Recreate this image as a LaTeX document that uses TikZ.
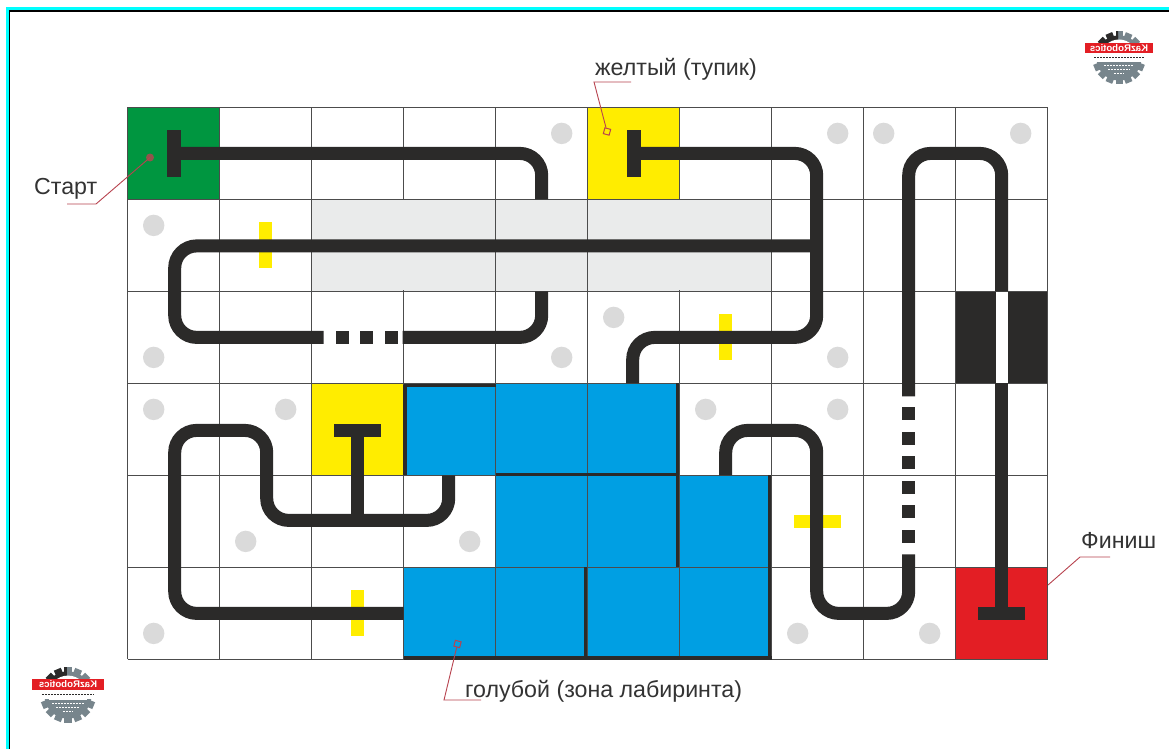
\documentclass[tikz,border=0pt]{standalone}
\usepackage{fontspec}
\usepackage{graphicx}
\setmainfont{Liberation Sans}
\definecolor{trk}{HTML}{2B2A29}
\definecolor{blu}{HTML}{009FE3}
\definecolor{ylw}{HTML}{FFED00}
\definecolor{grn}{HTML}{009640}
\definecolor{rdd}{HTML}{E31E24}
\definecolor{zonegrey}{HTML}{EAEBEB}
\definecolor{dotgrey}{HTML}{DADADA}
\definecolor{leader}{HTML}{B8434F}
\definecolor{txt}{HTML}{333333}
\definecolor{geargrey}{HTML}{77858C}
\definecolor{framecyan}{HTML}{00FFFF}
\tikzset{
  track/.style={draw=trk,line width=13pt,rounded corners=22pt},
  wall/.style={draw=trk,line width=3.5pt},
  tick/.style={fill=ylw,draw=none},
  dot/.style={fill=dotgrey,draw=none},
  grd/.style={draw=black!70,line width=0.9pt},
  lead/.style={draw=leader,line width=0.9pt},
  marker/.style={draw=leader,line width=1pt,fill=none},
  lbl/.style={text=txt,font=\fontsize{23.2}{27}\selectfont,inner sep=0pt,anchor=base west},
  square/.style={fill=trk,draw=none}
}
\newcommand{\kazlogo}[3]{%
  \begin{scope}[shift={(#1,#2)},scale=#3]
    \foreach \a in {0,22.5,...,337.5}{
      \fill[geargrey,rotate=\a] (-3.5,-26.5) rectangle (3.5,-20);
    }
    \fill[geargrey] (0,0) circle (22.5);
    \begin{scope}
      \clip (-30,-27) rectangle (-1,-8);
      \foreach \a in {0,22.5,...,337.5}{
        \fill[trk,rotate=\a] (-3.5,-26.5) rectangle (3.5,-20);
      }
      \fill[trk] (0,0) circle (22.5);
    \end{scope}
    \begin{scope}
      \clip (-30,-30) rectangle (30,4);
      \fill[white] (0,0) circle (18.5);
    \end{scope}
    \fill[white] (-28,-6) rectangle (28,4);
    \fill[rdd] (-34,-15) rectangle (34,-5);
    \node[inner sep=0pt,text=white,font=\bfseries\fontsize{9.6}{11}\selectfont] at (0,-10) {\reflectbox{KazRobotics}};
    \draw[trk,line width=1pt,dash pattern=on 2pt off 1pt] (-25,-0.5) -- (25,-0.5);
    \draw[white,line width=1pt,dash pattern=on 2pt off 1pt] (-15,8) -- (15,8);
    \draw[white,line width=1pt,dash pattern=on 2pt off 1pt] (-11,12) -- (11,12);
    \draw[white,line width=1pt,dash pattern=on 2pt off 1pt] (-5,16) -- (5,16);
  \end{scope}%
}
\begin{document}
\begin{tikzpicture}[x=1pt,y=-1pt]
\useasboundingbox (0,0) rectangle (1169,749);
\fill[white] (0,0) rectangle (1169,749);
% frame
\fill[framecyan] (5.5,7.5) rectangle (1169,10.5);
\fill[framecyan] (5.5,7.5) rectangle (8.5,749);
\fill[black] (8.5,10.5) rectangle (1169,12.5);
\fill[black] (8.5,10.5) rectangle (10.3,749);
\begin{scope}[xshift=-0.3pt,yshift=-0.4pt]
% coloured cells
\fill[grn] (128,107) rectangle (220,199);
\fill[ylw] (588,107) rectangle (680,199);
\fill[ylw] (312,383) rectangle (404,475);
\fill[rdd] (956,567) rectangle (1048,659);
\fill[zonegrey] (312,199) rectangle (772,291);
\fill[blu] (404,383) rectangle (680,475);
\fill[blu] (496,475) rectangle (772,567);
\fill[blu] (404,567) rectangle (772,659);
\fill[trk] (956,291) rectangle (1048,383);
\fill[white] (996.5,291) rectangle (1008.5,383);
% grey dots
\foreach \p in {(562,133),(838,133),(884,133),(1021,133),(154,225),(154,357),(562,357),(614,317),(838,357),(154,409),(286,409),(706,409),(838,409),(246,541),(470,541),(154,633),(798,633),(930,633)}
  \fill[dot] \p circle (10.7);
% grid
\foreach \x in {0,...,10} \draw[grd] (128+\x*92,107) -- (128+\x*92,659);
\foreach \y in {0,...,6} \draw[grd] (128,107+\y*92) -- (1048,107+\y*92);
% the grey zone hides two grid lines
\draw[zonegrey,line width=1.6pt] (404,200) -- (404,290);
\draw[zonegrey,line width=1.6pt] (680,200) -- (680,290);
% yellow ticks
\fill[tick] (259.5,222) rectangle (272,268);
\fill[tick] (719,314) rectangle (732,360);
\fill[tick] (794,515) rectangle (841,527.5);
\fill[tick] (351,590) rectangle (364,636);
% walls of the maze zone
\draw[wall] (404,385) -- (496,385);
\draw[wall] (405.5,385) -- (405.5,475);
\draw[wall] (678,383) -- (678,567);
\draw[wall] (496,474) -- (678,474);
\draw[wall] (586,567) -- (586,659);
\draw[wall] (770,475) -- (770,659);
\draw[wall] (404,657.5) -- (772,657.5);
% tracks
\draw[track] (173.5,153) -- (542,153) -- (542,199);
\draw[track] (817,245.5) -- (175,245.5) -- (175,337) -- (324,337);
\draw[track] (403,337) -- (542,337) -- (542,291);
\draw[track] (633.5,153) -- (817,153) -- (817,337) -- (633,337) -- (633,383);
\draw[track] (909,396) -- (909,153) -- (1002,153) -- (1002,291);
\draw[track] (1002,383) -- (1002,613);
\draw[track] (909,554) -- (909,613) -- (817,613) -- (817,430) -- (726,430) -- (726,475);
\draw[track] (404,613) -- (175,613) -- (175,430) -- (267,430) -- (267,520) -- (449,520) -- (449,475);
\draw[track] (357.5,520) -- (357.5,430);
% T bars
\fill[square] (167,130) rectangle (181,177);
\fill[square] (627,130) rectangle (641,177);
\fill[square] (334,423.5) rectangle (381.5,437);
\fill[square] (978,606.5) rectangle (1025,620);
% dashes
\foreach \a in {336,360.5,385} \fill[square] (\a,330.5) rectangle (\a+13,343.5);
\foreach \b in {407,432,456,481,505,530} \fill[square] (902.5,\b) rectangle (915.5,\b+13);
\end{scope}
% callouts
\coordinate (startTip) at (150,157.5);
\coordinate (startBend) at (96,204);
\coordinate (startEnd) at (67,204);
\fill[leader!80!grn] (startTip) circle (4);
\draw[lead] (startTip) -- (startBend) -- (startEnd);
\node[lbl] (startLbl) at (34,194) {Старт};
\node[lbl] (deadLbl) at (595,76) {желтый (тупик)};
\node[marker,draw,minimum size=6pt,inner sep=0pt,rotate=-15] (deadMark) at (607,131.5) {};
\coordinate (deadBend) at (594,82);
\coordinate (deadEnd) at (631,82);
\draw[lead] (deadMark) -- (deadBend) -- (deadEnd);
\node[lbl] (mazeLbl) at (465,697) {голубой (зона лабиринта)};
\node[marker,draw,minimum size=6pt,inner sep=0pt,rotate=-15] (mazeMark) at (457.5,644) {};
\coordinate (mazeBend) at (444,700);
\coordinate (mazeEnd) at (481,700);
\draw[lead] (mazeMark) -- (mazeBend) -- (mazeEnd);
\node[lbl] (finLbl) at (1081,548) {Финиш};
\coordinate (finTip) at (1048,585);
\coordinate (finBend) at (1080,557);
\coordinate (finEnd) at (1110,557);
\draw[lead] (finTip) -- (finBend) -- (finEnd);
% logos
\kazlogo{1119}{58}{1}
\kazlogo{68}{695}{1.05}
\end{tikzpicture}
\end{document}
